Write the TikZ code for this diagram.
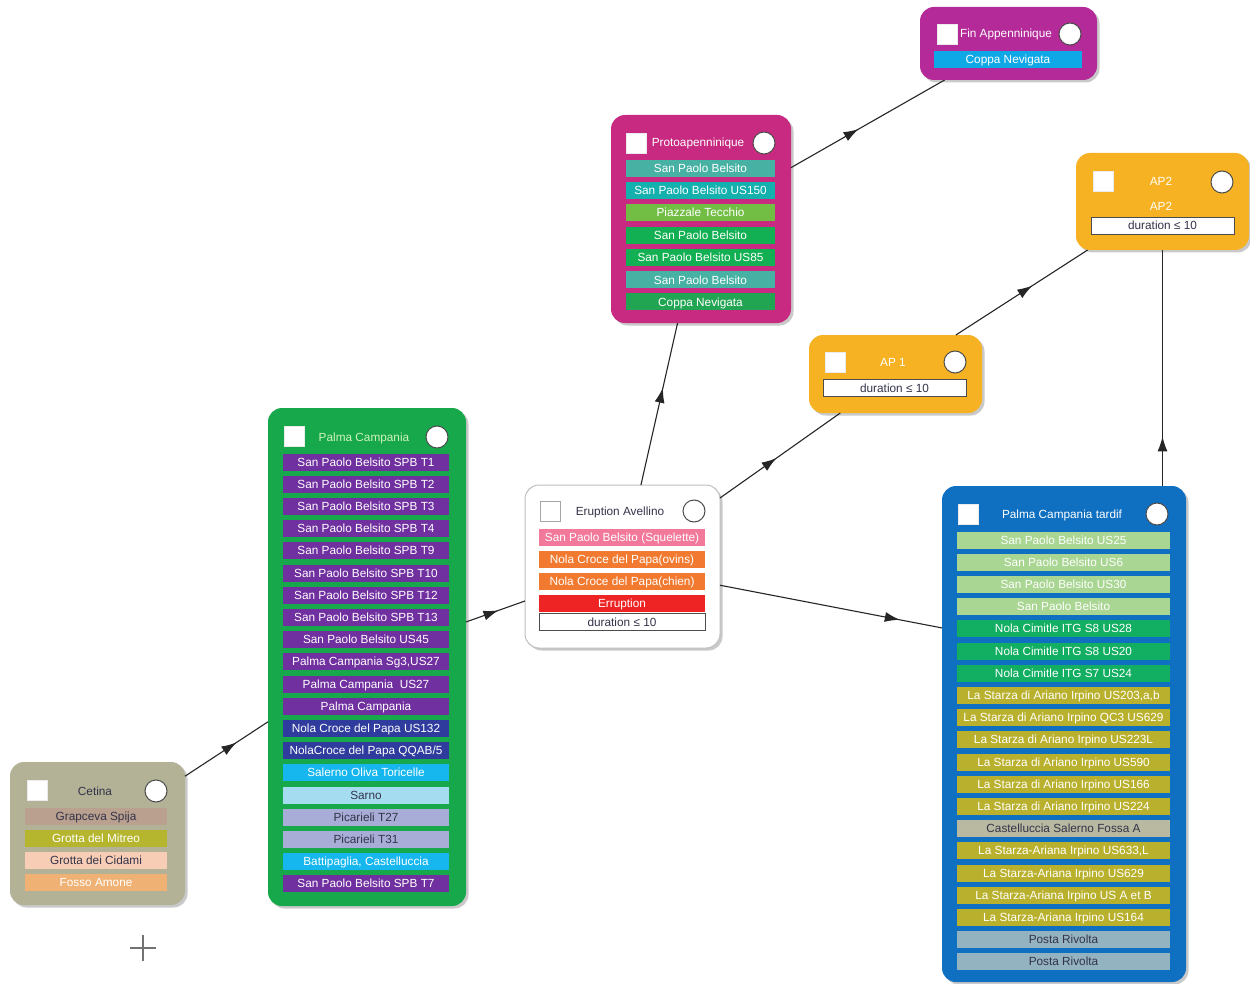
\documentclass[tikz,border=0pt]{standalone}
\usepackage{fontspec}
\setmainfont{Liberation Sans}
\usetikzlibrary{arrows.meta,decorations.markings,shadows,calc}
\definecolor{cetBg}{HTML}{B3B296}
\definecolor{cGrap}{HTML}{B9A08F}
\definecolor{cMitreo}{HTML}{B5B52E}
\definecolor{cCidami}{HTML}{F8CDB5}
\definecolor{cFosso}{HTML}{F0B274}
\definecolor{pcBg}{HTML}{17A84C}
\definecolor{cPurple}{HTML}{7030A0}
\definecolor{cNavy}{HTML}{2F3C9E}
\definecolor{cCyan}{HTML}{15B7EE}
\definecolor{cSarno}{HTML}{A6DCF0}
\definecolor{cLav}{HTML}{A7ADD6}
\definecolor{cPink}{HTML}{F2799A}
\definecolor{cOrange}{HTML}{F27A30}
\definecolor{cRed}{HTML}{EE2424}
\definecolor{protoBg}{HTML}{C72A80}
\definecolor{cTeal}{HTML}{47B2A4}
\definecolor{cTealB}{HTML}{14B0AE}
\definecolor{cLime}{HTML}{72BE45}
\definecolor{cGreenA}{HTML}{13B053}
\definecolor{cGreenB}{HTML}{22A552}
\definecolor{finBg}{HTML}{B42A98}
\definecolor{cFinCyan}{HTML}{0FA8E6}
\definecolor{apBg}{HTML}{F6B222}
\definecolor{tarBg}{HTML}{0F6FC0}
\definecolor{cLGreen}{HTML}{A9D692}
\definecolor{cGreenC}{HTML}{12AE62}
\definecolor{cOlive}{HTML}{B9B12E}
\definecolor{cCastel}{HTML}{B9B8A0}
\definecolor{cPosta}{HTML}{93B3C0}
\definecolor{cDark}{HTML}{33334A}
\definecolor{pcTitle}{HTML}{D0F2B8}
\tikzset{
  grp/.style={rounded corners=14pt, minimum width=#1, inner sep=0pt, outer sep=0pt,
    drop shadow={shadow xshift=2.5pt, shadow yshift=-2.5pt, opacity=0.35, fill=black!60}},
  rowbox/.style={minimum width=#1, minimum height=17pt, inner sep=0pt, outer sep=0pt,
    text=white, font=\fontsize{11.8}{13}\selectfont, text height=9.5pt, text depth=1.5pt},
  durbox/.style={rowbox=#1, fill=white, draw=black!70, line width=0.8pt, text=cDark},
  ttl/.style={font=\fontsize{11.8}{13}\selectfont, inner sep=0pt, text height=9.5pt, text depth=1.5pt},
  chk/.style={fill=white, minimum size=20pt, inner sep=0pt, draw=black!8},
  circ/.style={circle, fill=white, draw=black!70, line width=1pt, minimum size=22pt, inner sep=0pt},
  conn/.style={draw=black!85, line width=1.1pt, postaction={decorate},
    decoration={markings, mark=at position #1 with {\arrow{Latex[length=15pt,width=10pt]}}}}
}
\begin{document}
\begin{tikzpicture}[x=1pt,y=-1pt]
\useasboundingbox[fill=white] (0,0) rectangle (1250,984);

% ---------- Cetina ----------
\node[grp=175pt, minimum height=143pt, fill=cetBg] (cet) at (97.5,833.5) {};
\node[chk] (cetchk) at (37,790.5) {};
\node[ttl, text=cDark] (cett) at (95,791) {Cetina};
\node[circ] (cetc) at (156,791) {};
\node[rowbox=142pt, fill=cGrap, text=cDark] (cet1) at (96,816) {Grapceva Spija};
\node[rowbox=142pt, fill=cMitreo] (cet2) at (96,838) {Grotta del Mitreo};
\node[rowbox=142pt, fill=cCidami, text=cDark] (cet3) at (96,860) {Grotta dei Cidami};
\node[rowbox=142pt, fill=cFosso] (cet4) at (96,882) {Fosso Amone};

% ---------- Palma Campania ----------
\node[grp=198pt, minimum height=498pt, fill=pcBg] (pc) at (367,657) {};
\node[chk] (pcchk) at (294.5,436.5) {};
\node[ttl, text=pcTitle] (pct) at (364,437) {Palma Campania};
\node[circ] (pcc) at (437,437) {};
\node[rowbox=166pt, fill=cPurple] (pc1) at (366,462.0) {San Paolo Belsito SPB T1};
\node[rowbox=166pt, fill=cPurple] (pc2) at (366,484.2) {San Paolo Belsito SPB T2};
\node[rowbox=166pt, fill=cPurple] (pc3) at (366,506.4) {San Paolo Belsito SPB T3};
\node[rowbox=166pt, fill=cPurple] (pc4) at (366,528.6) {San Paolo Belsito SPB T4};
\node[rowbox=166pt, fill=cPurple] (pc5) at (366,550.8) {San Paolo Belsito SPB T9};
\node[rowbox=166pt, fill=cPurple] (pc6) at (366,573.0) {San Paolo Belsito SPB T10};
\node[rowbox=166pt, fill=cPurple] (pc7) at (366,595.2) {San Paolo Belsito SPB T12};
\node[rowbox=166pt, fill=cPurple] (pc8) at (366,617.4) {San Paolo Belsito SPB T13};
\node[rowbox=166pt, fill=cPurple] (pc9) at (366,639.6) {San Paolo Belsito US45};
\node[rowbox=166pt, fill=cPurple] (pc10) at (366,661.8) {Palma Campania Sg3,US27};
\node[rowbox=166pt, fill=cPurple] (pc11) at (366,684.0) {Palma Campania\ \ US27};
\node[rowbox=166pt, fill=cPurple] (pc12) at (366,706.2) {Palma Campania};
\node[rowbox=166pt, fill=cNavy] (pc13) at (366,728.4) {Nola Croce del Papa US132};
\node[rowbox=166pt, fill=cNavy] (pc14) at (366,750.6) {NolaCroce del Papa QQAB/5};
\node[rowbox=166pt, fill=cCyan] (pc15) at (366,772.8) {Salerno Oliva Toricelle};
\node[rowbox=166pt, fill=cSarno, text=cDark] (pc16) at (366,795.0) {Sarno};
\node[rowbox=166pt, fill=cLav, text=cDark] (pc17) at (366,817.2) {Picarieli T27};
\node[rowbox=166pt, fill=cLav, text=cDark] (pc18) at (366,839.4) {Picarieli T31};
\node[rowbox=166pt, fill=cCyan] (pc19) at (366,861.6) {Battipaglia, Castelluccia};
\node[rowbox=166pt, fill=cPurple] (pc20) at (366,883.8) {San Paolo Belsito SPB T7};

% ---------- Eruption Avellino ----------
\node[grp=195pt, minimum height=163pt, fill=white, draw=black!25, line width=1pt] (er) at (622.5,566.5) {};
\node[chk, draw=black!35, line width=0.8pt] (erchk) at (550.5,511.5) {};
\node[ttl, text=cDark] (ert) at (620,511) {Eruption Avellino};
\node[circ, fill=none] (erc) at (694,511) {};
\node[rowbox=166pt, fill=cPink] (er1) at (622,537) {San Paolo Belsito (Squelette)};
\node[rowbox=166pt, fill=cOrange] (er2) at (622,559) {Nola Croce del Papa(ovins)};
\node[rowbox=166pt, fill=cOrange] (er3) at (622,581) {Nola Croce del Papa(chien)};
\node[rowbox=166pt, fill=cRed] (er4) at (622,603) {Erruption};
\node[durbox=166pt] (er5) at (622,622) {duration ≤ 10};

% ---------- Protoapenninique ----------
\node[grp=180pt, minimum height=208pt, fill=protoBg] (pr) at (701,219) {};
\node[chk] (prchk) at (636.5,143) {};
\node[ttl, text=white] (prt) at (698,143) {Protoapenninique};
\node[circ] (prc) at (764,143) {};
\node[rowbox=149pt, fill=cTeal] (pr1) at (700.5,169) {San Paolo Belsito};
\node[rowbox=149pt, fill=cTealB] (pr2) at (700.5,191) {San Paolo Belsito US150};
\node[rowbox=149pt, fill=cLime] (pr3) at (700.5,213) {Piazzale Tecchio};
\node[rowbox=149pt, fill=cGreenA] (pr4) at (700.5,236) {San Paolo Belsito};
\node[rowbox=149pt, fill=cGreenA] (pr5) at (700.5,258) {San Paolo Belsito US85};
\node[rowbox=149pt, fill=cTeal] (pr6) at (700.5,280) {San Paolo Belsito};
\node[rowbox=149pt, fill=cGreenB] (pr7) at (700.5,302) {Coppa Nevigata};

% ---------- Fin Appenninique ----------
\node[grp=177pt, minimum height=73pt, fill=finBg] (fin) at (1008.5,43.5) {};
\node[chk] (finchk) at (947,34.5) {};
\node[ttl, text=white] (fint) at (1006,34) {Fin Appenninique};
\node[circ] (finc) at (1070,34) {};
\node[rowbox=148pt, fill=cFinCyan] (fin1) at (1008,60) {Coppa Nevigata};

% ---------- AP1 ----------
\node[grp=173pt, minimum height=78pt, fill=apBg] (ap1) at (895.5,374) {};
\node[chk] (ap1chk) at (835.5,362.5) {};
\node[ttl, text=white] (ap1t) at (893,362) {AP 1};
\node[circ] (ap1c) at (955,362) {};
\node[durbox=143pt] (ap1d) at (894.5,388) {duration ≤ 10};

% ---------- AP2 ----------
\node[grp=173pt, minimum height=97pt, fill=apBg] (ap2) at (1162.5,201.5) {};
\node[chk] (ap2chk) at (1103.5,181.5) {};
\node[ttl, text=white] (ap2t) at (1161,182) {AP2};
\node[circ] (ap2c) at (1222,182) {};
\node[ttl, text=white] (ap2t2) at (1161,207) {AP2};
\node[durbox=143pt] (ap2d) at (1162.5,226) {duration ≤ 10};

% ---------- Palma Campania tardif ----------
\node[grp=244pt, minimum height=496pt, fill=tarBg] (pt) at (1064,734) {};
\node[chk] (ptchk) at (968,514) {};
\node[ttl, text=white] (ptt) at (1062,514) {Palma Campania tardif};
\node[circ] (ptc) at (1157,514) {};
\node[rowbox=213pt, fill=cLGreen] (pt1) at (1063.5,540.0) {San Paolo Belsito US25};
\node[rowbox=213pt, fill=cLGreen] (pt2) at (1063.5,562.2) {San Paolo Belsito US6};
\node[rowbox=213pt, fill=cLGreen] (pt3) at (1063.5,584.4) {San Paolo Belsito US30};
\node[rowbox=213pt, fill=cLGreen] (pt4) at (1063.5,606.6) {San Paolo Belsito};
\node[rowbox=213pt, fill=cGreenC] (pt5) at (1063.5,628.8) {Nola Cimitle ITG S8 US28};
\node[rowbox=213pt, fill=cGreenC] (pt6) at (1063.5,651.0) {Nola Cimitle ITG S8 US20};
\node[rowbox=213pt, fill=cGreenC] (pt7) at (1063.5,673.2) {Nola Cimitle ITG S7 US24};
\node[rowbox=213pt, fill=cOlive] (pt8) at (1063.5,695.4) {La Starza di Ariano Irpino US203,a,b};
\node[rowbox=213pt, fill=cOlive] (pt9) at (1063.5,717.6) {La Starza di Ariano Irpino QC3 US629};
\node[rowbox=213pt, fill=cOlive] (pt10) at (1063.5,739.8) {La Starza di Ariano Irpino US223L};
\node[rowbox=213pt, fill=cOlive] (pt11) at (1063.5,762.0) {La Starza di Ariano Irpino US590};
\node[rowbox=213pt, fill=cOlive] (pt12) at (1063.5,784.2) {La Starza di Ariano Irpino US166};
\node[rowbox=213pt, fill=cOlive] (pt13) at (1063.5,806.4) {La Starza di Ariano Irpino US224};
\node[rowbox=213pt, fill=cCastel, text=cDark] (pt14) at (1063.5,828.6) {Castelluccia Salerno Fossa A};
\node[rowbox=213pt, fill=cOlive] (pt15) at (1063.5,850.8) {La Starza-Ariana Irpino US633,L};
\node[rowbox=213pt, fill=cOlive] (pt16) at (1063.5,873.0) {La Starza-Ariana Irpino US629};
\node[rowbox=213pt, fill=cOlive] (pt17) at (1063.5,895.2) {La Starza-Ariana Irpino US A et B};
\node[rowbox=213pt, fill=cOlive] (pt18) at (1063.5,917.4) {La Starza-Ariana Irpino US164};
\node[rowbox=213pt, fill=cPosta, text=cDark] (pt19) at (1063.5,939.6) {Posta Rivolta};
\node[rowbox=213pt, fill=cPosta, text=cDark] (pt20) at (1063.5,961.8) {Posta Rivolta};

% ---------- connectors ----------
\draw[conn=0.62] (cet) -- (pc);
\draw[conn=0.55] (pc) -- (er);
\draw[conn=0.6] (er) -- (pr);
\draw[conn=0.47] (er) -- (ap1);
\draw[conn=0.81] (er) -- (pt.139);
\draw[conn=0.44] (pr) -- (fin);
\draw[conn=0.58] (ap1) -- (ap2);
\draw[conn=0.21] (ap2.south |- pt.north) -- (ap2.south);

% ---------- plus mark ----------
\coordinate (plus) at (143,948);
\draw[black!55, line width=1.4pt] ($(plus)+(-13,0)$) -- ($(plus)+(13,0)$);
\draw[black!55, line width=1.4pt] ($(plus)+(0,-13)$) -- ($(plus)+(0,13)$);
\end{tikzpicture}
\end{document}
